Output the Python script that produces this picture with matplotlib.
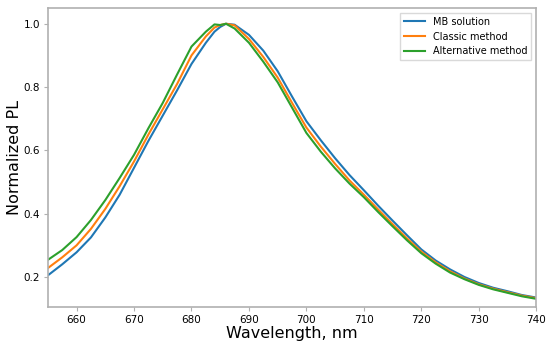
import matplotlib
matplotlib.use('Agg')
import matplotlib.pyplot as plt

wavelength = [655, 657.5, 660, 662.5, 665, 667.5, 670, 672.5, 675, 677.5, 680, 682.5, 684, 685, 686,
              687.5, 690, 692.5, 695, 697.5, 700, 702.5, 705, 707.5, 710, 712.5, 715, 717.5,
              720, 722.5, 725, 727.5, 730, 732.5, 735, 737.5, 740]

mb_solution = [0.205, 0.240, 0.278, 0.325, 0.388, 0.460, 0.545, 0.630, 0.710, 0.790, 0.873, 0.940, 0.975, 0.990, 1.0,
               0.997, 0.965, 0.915, 0.850, 0.770, 0.692, 0.632, 0.575, 0.522, 0.474, 0.425, 0.378, 0.332,
               0.287, 0.252, 0.224, 0.200, 0.181, 0.166, 0.155, 0.143, 0.135]

classic = [0.228, 0.262, 0.300, 0.352, 0.415, 0.487, 0.565, 0.650, 0.730, 0.810, 0.900, 0.960, 0.988, 0.996, 1.0,
           0.995, 0.952, 0.895, 0.830, 0.750, 0.672, 0.612, 0.557, 0.505, 0.460, 0.413, 0.367, 0.322,
           0.280, 0.246, 0.218, 0.195, 0.177, 0.163, 0.152, 0.141, 0.133]

alternative = [0.254, 0.285, 0.326, 0.380, 0.443, 0.513, 0.586, 0.670, 0.750, 0.840, 0.928, 0.975, 0.998, 0.996, 1.0,
               0.985, 0.940, 0.880, 0.815, 0.735, 0.655, 0.596, 0.543, 0.495, 0.452, 0.405, 0.360, 0.316,
               0.275, 0.242, 0.214, 0.193, 0.175, 0.161, 0.150, 0.139, 0.131]

fig = plt.figure(figsize=(5.5, 3.45), dpi=100)
ax = fig.add_axes([0.087, 0.110, 0.888, 0.867])

ax.plot(wavelength, mb_solution, color='#1f77b4', lw=1.5, label='MB solution')
ax.plot(wavelength, classic, color='#ff7f0e', lw=1.5, label='Classic method')
ax.plot(wavelength, alternative, color='#2ca02c', lw=1.5, label='Alternative method')

ax.set_xlim(655, 740)
ax.set_ylim(0.105, 1.05)
ax.set_yticks([0.2, 0.4, 0.6, 0.8, 1.0])
ax.set_xticks(range(660, 741, 10))

for s in ax.spines.values():
    s.set_color('#b0b0b0')
    s.set_linewidth(1.2)
ax.tick_params(colors='#b0b0b0', labelcolor='black', labelsize=7.5, length=3, pad=2.5)

ax.set_xlabel('Wavelength, nm', fontsize=11.5, labelpad=1)
ax.set_ylabel('Normalized PL', fontsize=11.5, labelpad=1)

ax.legend(loc='upper right', fontsize=7, frameon=True, fancybox=False,
          edgecolor='#d0d0d0', handlelength=2.2)

fig.savefig('out.png', dpi=100)
